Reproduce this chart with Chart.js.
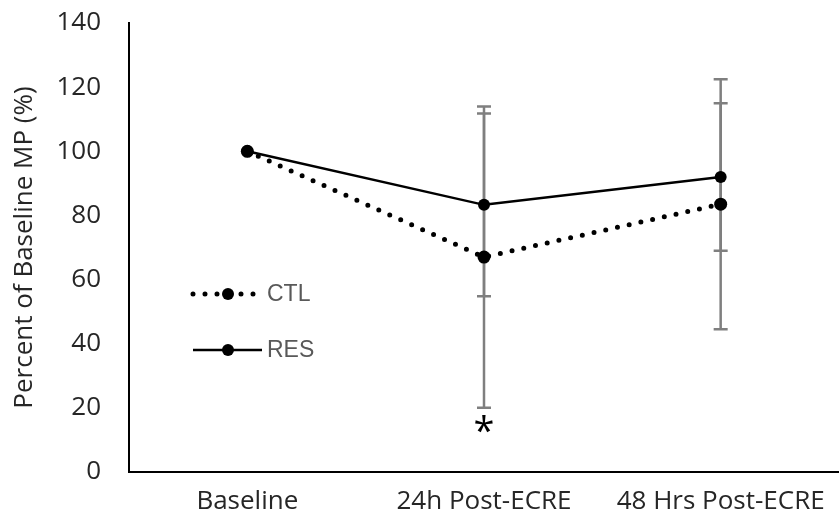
<!DOCTYPE html>
<html>
<head>
<meta charset="utf-8">
<script src="https://cdn.jsdelivr.net/npm/chart.js@4"></script>
<style>
  html, body { margin: 0; padding: 0; background: #fff; }
  #wrap { width: 839px; height: 530px; }
</style>
</head>
<body>
<div id="wrap"><canvas id="mpChart" width="839" height="530"></canvas></div>
<script>
// データ
const timepoints = ['Baseline', '24h Post-ECRE', '48 Hrs Post-ECRE'];
const ctlMean = [100, 67, 83.5];
const ctlSD = [0, 47, 39];
const resMean = [100, 83.3, 92];
const resSD = [0, 28.5, 23];
const sigMarks = ['', '*', ''];
const sigLevel = 13;
const yTicks = [0, 20, 40, 60, 80, 100, 120, 140];

// エラーバー
const errorBars = {
  id: 'errorBars',
  beforeDatasetsDraw(chart) {
    const ctx = chart.ctx;
    const x = chart.scales.x, y = chart.scales.y;
    const sets = [[ctlMean, ctlSD], [resMean, resSD]];
    ctx.save();
    ctx.strokeStyle = '#7f7f7f';
    ctx.lineWidth = 2.5;
    sets.forEach(([m, sd]) => {
      m.forEach((v, i) => {
        if (!sd[i]) return;
        const px = x.getPixelForValue(i);
        const top = y.getPixelForValue(v + sd[i]);
        const bot = y.getPixelForValue(v - sd[i]);
        ctx.beginPath();
        ctx.moveTo(px, top); ctx.lineTo(px, bot);
        ctx.moveTo(px - 7, top); ctx.lineTo(px + 7, top);
        ctx.moveTo(px - 7, bot); ctx.lineTo(px + 7, bot);
        ctx.stroke();
      });
    });
    ctx.restore();
  },
  afterDatasetsDraw(chart) {
    const ctx = chart.ctx;
    const x = chart.scales.x, y = chart.scales.y;
    ctx.save();
    ctx.fillStyle = '#000';
    ctx.font = '38px "Open Sans"';
    ctx.textAlign = 'center';
    ctx.textBaseline = 'middle';
    sigMarks.forEach((s, i) => {
      if (s) ctx.fillText(s, x.getPixelForValue(i), y.getPixelForValue(sigLevel) + 3);
    });
    ctx.restore();
  }
};

// 凡例（グラフ内）
const innerLegend = {
  id: 'innerLegend',
  afterDraw(chart) {
    const ctx = chart.ctx;
    ctx.save();
    chart.data.datasets.forEach((ds, i) => {
      const yy = 294 + i * 56;
      ctx.strokeStyle = '#000';
      ctx.lineWidth = ds.borderWidth;
      ctx.lineCap = ds.borderCapStyle || 'butt';
      ctx.setLineDash(ds.borderDash || []);
      ctx.beginPath();
      ctx.moveTo(193, yy); ctx.lineTo(262, yy);
      ctx.stroke();
      ctx.setLineDash([]);
      ctx.fillStyle = '#000';
      ctx.beginPath();
      ctx.arc(228, yy, 6, 0, Math.PI * 2);
      ctx.fill();
      ctx.fillStyle = '#595959';
      ctx.font = '23px "Liberation Sans"';
      ctx.textBaseline = 'middle';
      ctx.fillText(ds.label, 267, yy + 1);
    });
    ctx.restore();
  }
};

const ctx = document.getElementById('mpChart').getContext('2d');
const myChart = new Chart(ctx, {
  type: 'line',
  data: {
    labels: timepoints,
    datasets: [{
      label: 'CTL',
      data: ctlMean,
      borderColor: '#000',
      backgroundColor: '#000',
      borderWidth: 5,
      borderDash: [0, 12],
      borderCapStyle: 'round',
      pointRadius: 6.5,
      pointBorderWidth: 0,
      tension: 0
    }, {
      label: 'RES',
      data: resMean,
      borderColor: '#000',
      backgroundColor: '#000',
      borderWidth: 2.5,
      pointRadius: 6,
      pointBorderWidth: 0,
      tension: 0
    }]
  },
  options: {
    responsive: false,
    animation: false,
    layout: { autoPadding: false, padding: { top: 23, right: 0, left: 0, bottom: 0 } },
    plugins: {
      legend: { display: false },
      tooltip: { enabled: false }
    },
    scales: {
      x: {
        offset: true,
        grid: { display: false, drawTicks: false },
        border: { display: true, color: '#000', width: 2 },
        ticks: {
          color: '#262626',
          padding: 14,
          maxRotation: 0,
          autoSkip: false,
          font: { family: '"Open Sans"', size: 26 }
        },
        afterFit(scale) {
          scale.height = 58;
          scale.paddingLeft = 0;
          scale.paddingRight = 0;
        }
      },
      y: {
        min: 0,
        max: 140,
        afterBuildTicks(scale) {
          scale.ticks = yTicks.map(v => ({ value: v }));
        },
        grid: { display: false, drawTicks: false },
        border: { display: true, color: '#000', width: 2 },
        ticks: {
          color: '#262626',
          padding: 28,
          font: { family: '"Open Sans"', size: 26 }
        },
        title: {
          display: true,
          text: 'Percent of Baseline MP (%)',
          color: '#262626',
          font: { family: '"Open Sans"', size: 26 },
          padding: { top: 9, bottom: 0 }
        },
        afterFit(scale) {
          scale.width = 129;
          scale.paddingTop = 0;
          scale.paddingBottom = 0;
        }
      }
    }
  },
  plugins: [errorBars, innerLegend]
});
</script>
</body>
</html>
